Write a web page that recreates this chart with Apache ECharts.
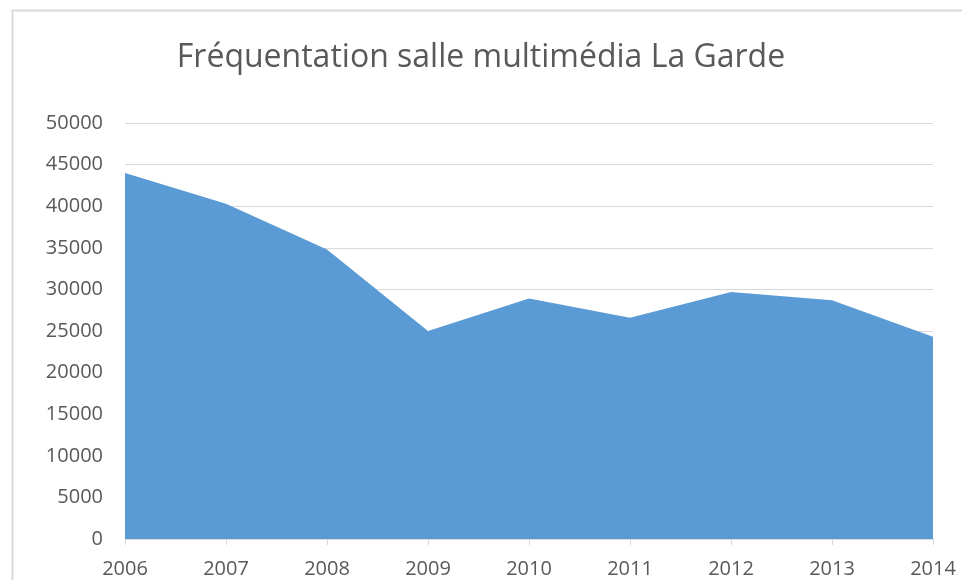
<!DOCTYPE html>
<html>
<head>
    <meta charset="utf-8">
    <title>Fréquentation</title>
    <script src="https://cdn.jsdelivr.net/npm/echarts@6/dist/echarts.min.js"></script>
    <style>
        html, body { margin:0; padding:0; background:#fff; }
    </style>
</head>
<body>
<div id="main" style="width:962px;height:580px;"></div>
<script type="text/javascript">
// données
var annees = ['2006','2007','2008','2009','2010','2011','2012','2013','2014'];
var frequentation = [44000, 40300, 34800, 25000, 28900, 26600, 29700, 28700, 24300];
var yTicks = [0, 5000, 10000, 15000, 20000, 25000, 30000, 35000, 40000, 45000, 50000];

var myChart = echarts.init(document.getElementById('main'));
var fontFam = 'Open Sans';

var option = {
    animation: false,
    title: {
        text: 'Fréquentation salle multimédia La Garde',
        left: 'center',
        top: 37,
        textStyle: {
            fontFamily: fontFam,
            fontSize: 32,
            fontWeight: 'normal',
            color: '#595959'
        }
    },
    graphic: [{
        type: 'rect',
        silent: true,
        shape: { x: 12.5, y: 10.5, width: 1000, height: 700 },
        style: { fill: 'none', stroke: '#d9d9d9', lineWidth: 2 }
    }],
    grid: {
        left: 125,
        right: 29,
        top: 123,
        bottom: 41
    },
    xAxis: {
        type: 'category',
        boundaryGap: false,
        data: annees,
        axisLine: { lineStyle: { color: '#d9d9d9', width: 1 } },
        axisTick: { show: true, length: 6, lineStyle: { color: '#d9d9d9' } },
        axisLabel: {
            fontFamily: fontFam,
            fontSize: 20,
            color: '#595959',
            margin: 20
        },
        splitLine: { show: false }
    },
    yAxis: {
        type: 'value',
        min: yTicks[0],
        max: yTicks[yTicks.length - 1],
        interval: yTicks[1] - yTicks[0],
        axisLine: { show: false },
        axisTick: { show: false },
        axisLabel: {
            fontFamily: fontFam,
            fontSize: 20,
            color: '#595959',
            margin: 22,
            formatter: function (v) { return String(v); }
        },
        splitLine: { lineStyle: { color: '#d9d9d9', width: 1 } }
    },
    series: [{
        name: 'Fréquentation',
        type: 'line',
        data: frequentation,
        showSymbol: false,
        symbol: 'none',
        lineStyle: { width: 0 },
        areaStyle: { color: '#5b9bd5', opacity: 1 },
        z: 3
    }]
};
myChart.setOption(option);
</script>
</body>
</html>
